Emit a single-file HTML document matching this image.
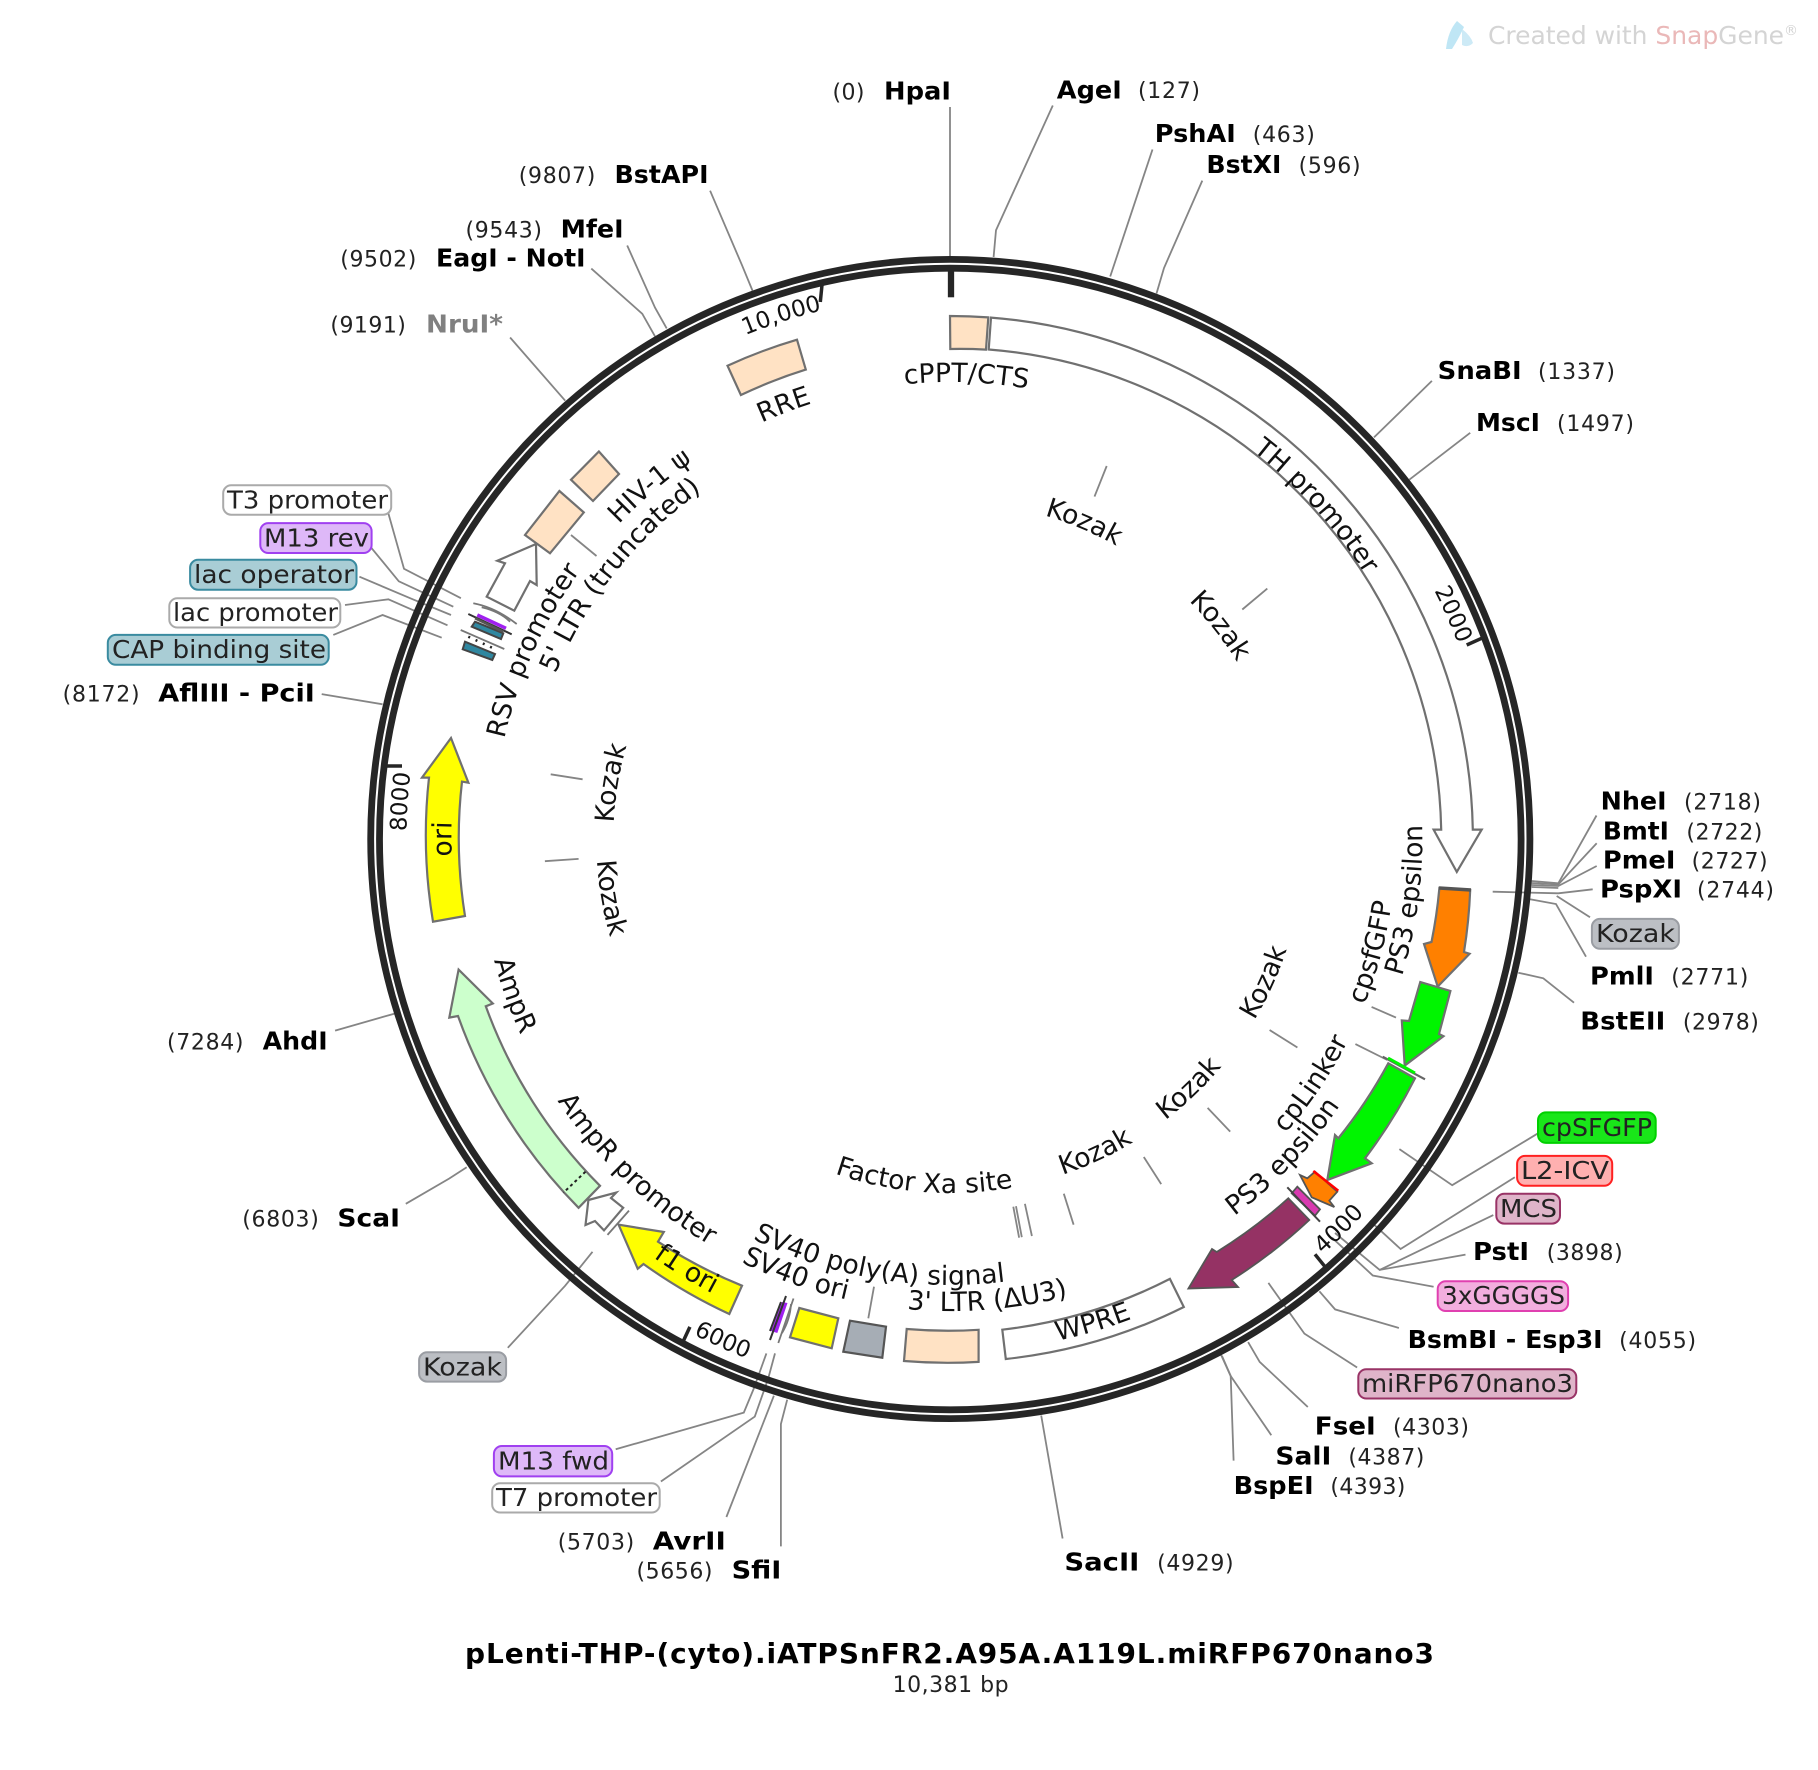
<!DOCTYPE html>
<html><head><meta charset="utf-8"><title>pLenti-THP-(cyto).iATPSnFR2.A95A.A119L.miRFP670nano3</title>
<style>
html,body{margin:0;padding:0;background:#fff}
svg{display:block}
text{font-family:"DejaVu Sans","Liberation Sans",sans-serif;fill:#000}
.b{font-weight:bold;font-size:25px}
.r{font-size:22px;fill:#222}
.f{font-size:26.6px;fill:#111}
.t{font-size:23px;fill:#111}
.x{font-size:25px;fill:#222}
.ld{fill:none;stroke:#858585;stroke-width:1.8}
.fe{stroke:#707070;stroke-width:2.2;stroke-linejoin:miter}
.pc{fill:#ffe2c4}
</style></head><body>
<svg width="1818" height="1770" viewBox="0 0 1818 1770" xmlns="http://www.w3.org/2000/svg">
<defs>
<path id="T337" d="M781.8,547.2A337,337 0 0 1 1118.8,547.2"/>
<path id="T428" d="M736.3,468.4A428,428 0 0 1 1164.3,468.4"/>
<path id="T457" d="M721.8,443.2A457,457 0 0 1 1178.8,443.2"/>
<path id="T492" d="M704.3,412.9A492,492 0 0 1 1196.3,412.9"/>
<path id="T499" d="M700.8,406.9A499,499 0 0 1 1199.8,406.9"/>
<path id="T544" d="M678.3,367.9A544,544 0 0 1 1222.3,367.9"/>
<path id="B354" d="M773.3,1145.6A354,354 0 0 0 1127.3,1145.6"/>
<path id="B446" d="M727.3,1225.2A446,446 0 0 0 1173.3,1225.2"/>
<path id="B472" d="M714.3,1247.8A472,472 0 0 0 1186.3,1247.8"/>
<path id="B513" d="M693.8,1283.3A513,513 0 0 0 1206.8,1283.3"/>
<path id="B558" d="M671.3,1322.2A558,558 0 0 0 1229.3,1322.2"/>
</defs>

<!-- leaders -->
<g class="ld">
<polyline points="950,107 950,256"/>
<polyline points="1052.8,105.5 996,230.2 993.6,257"/>
<polyline points="1152.5,149.5 1110.2,276.5"/>
<polyline points="1202.3,180.6 1164,268 1156.5,293.5"/>
<polyline points="1431.9,380.9 1374,437.4"/>
<polyline points="1470.2,432.8 1409.3,479.7"/>
<polyline points="710.1,190.7 742,265.2 752.5,290.6"/>
<polyline points="627.2,245.5 655,307.6 666.7,328.4"/>
<polyline points="591.3,268.6 642.3,313.8 655,336.3"/>
<polyline points="510.1,337.5 565.2,400.7"/>
<polyline points="388.4,513.5 404,568.8 460.9,598.2"/>
<polyline points="371,547.4 398.8,581.3 453.3,606.7"/>
<polyline points="359.4,576.7 412.8,599.3 451,615"/>
<polyline points="345,605 388.4,599.3 447.5,625.3"/>
<polyline points="333.3,634.9 382.6,615 441.7,637.7"/>
<polyline points="321.7,694.1 382.6,704.3"/>
<polyline points="1596.5,815.5 1558.3,883.3 1531.7,881"/>
<polyline points="1596.7,843.3 1558.3,884.5 1531.7,883"/>
<polyline points="1596.7,866 1558.3,886 1531.7,885"/>
<polyline points="1492.7,891.7 1558.3,893.3 1592.7,889.3"/>
<polyline points="1531.7,887 1558.3,888"/>
<polyline points="1556.7,896 1590,917.3"/>
<polyline points="1530,899.3 1556,904 1586,956.7"/>
<polyline points="1518.3,972.7 1543.3,978.3 1574,1002.7"/>
<polyline points="1538,1133.3 1452.2,1185.2 1399.4,1149.1"/>
<polyline points="1514.8,1177.3 1400.6,1249 1369.9,1220.8"/>
<polyline points="1493.3,1215.1 1379.7,1269.9 1335,1233"/>
<polyline points="1465.5,1254.6 1379.7,1269.9"/>
<polyline points="1433.6,1286.8 1372.8,1275.5 1332,1237.7"/>
<polyline points="1398.9,1328 1335.1,1309.4 1319.4,1291.3"/>
<polyline points="1357.1,1367.5 1304.4,1333.6 1268.4,1282.9"/>
<polyline points="1307.8,1407 1259.7,1361.9 1248.1,1342.1"/>
<polyline points="1271.3,1435.2 1230.7,1376 1220.9,1354.5"/>
<polyline points="1233.6,1460.6 1230.7,1376 1222,1356"/>
<polyline points="1062.6,1538.5 1041.2,1415.5"/>
<polyline points="1269.6,1030 1297.4,1047.5"/>
<polyline points="1207.6,1107.9 1230.2,1131.6"/>
<polyline points="1143.8,1157 1161.2,1184.1"/>
<polyline points="1063.8,1193.7 1073.6,1224.7"/>
<polyline points="1013.3,1206.7 1019.1,1237.7"/>
<polyline points="1016,1206.2 1021.8,1237.2"/>
<polyline points="1024.9,1203.8 1031.9,1236"/>
<polyline points="1371.6,1006.9 1396,1017.6"/>
<polyline points="1355.4,1044.1 1387.3,1060"/>
<polyline points="335.1,1030.6 394.2,1013.7"/>
<polyline points="405.8,1203.8 449.3,1178.5 466.7,1167.2"/>
<polyline points="507.8,1347.8 565.2,1285.7 592.5,1251.8"/>
<polyline points="615.7,1449.3 743.8,1412.6 753.6,1389 766.4,1353.4"/>
<polyline points="660.9,1481.5 754.8,1416.6 768.1,1378.8 775,1353.4"/>
<polyline points="726.4,1517 773.9,1395.7"/>
<polyline points="780.9,1546.4 780.9,1424 787.2,1399.7"/>
<polyline points="874,1286.7 868.3,1318.3"/>
<polyline points="571,535 596.5,556"/>
<polyline points="1106.7,466 1094.5,496.6"/>
<polyline points="1267.3,588.6 1242.3,609.5"/>
<polyline points="550.7,774.3 582.6,779.3"/>
<polyline points="544.9,861.2 578.6,858.9"/>
</g>

<!-- ring -->
<circle cx="950.3" cy="839" r="579.6" fill="none" stroke="#262626" stroke-width="6.8"/>
<circle cx="950.3" cy="839" r="570.8" fill="none" stroke="#262626" stroke-width="6.8"/>
<g stroke="#262626" fill="none">
<line x1="951" y1="271" x2="951" y2="297.3" stroke-width="6.3"/>
<line x1="822" y1="285" x2="820.3" y2="302" stroke-width="3.5"/>
<line x1="1483" y1="637.7" x2="1466.7" y2="645" stroke-width="3.5"/>
<line x1="386" y1="766" x2="402" y2="766" stroke-width="3.5"/>
<line x1="689.9" y1="1326.9" x2="682.3" y2="1343.2" stroke-width="3.5"/>
<line x1="1315" y1="1254.3" x2="1325" y2="1266.7" stroke-width="3.5"/>
</g>

<!-- features -->
<path class="fe pc" d="M950,316A523,523 0 0 1 988.3,317.4L986,349.6A490,490 0 0 0 950.3,349Z"/>
<path class="fe" fill="#fff" stroke-width="1.8" d="M991,317.6A523,523 0 0 1 1472.8,829.6L1481.7,829.6L1456.8,871.9L1433.6,829.6L1441.2,829.6A491,491 0 0 0 988.7,349.5Z"/>
<path class="fe" fill="#ff8000" d="M1439.4,887.8L1470.2,890A522,522 0 0 1 1464,952L1469.6,953.8L1437.7,986.6L1424,944L1431.5,942A491,491 0 0 0 1439.4,887.8Z"/>
<line x1="1439" y1="888" x2="1471" y2="890" stroke="#555" stroke-width="3.5"/>
<path class="fe" fill="#00f500" d="M1420.3,982L1450.4,991L1439,1034L1443.5,1036.2L1404.7,1065.6L1401.8,1020.4L1409,1021Z"/>
<path class="fe" fill="#00f500" d="M1388.3,1063.3L1415,1078.3A522,522 0 0 1 1365,1158.3L1371.7,1163.3L1327.3,1180L1335,1135L1338.3,1138.3A491,491 0 0 0 1388.3,1063.3Z"/>
<line x1="1382.7" y1="1056.7" x2="1425" y2="1079.3" stroke="#666" stroke-width="2.2"/>
<path d="M1388,1058L1415,1073" stroke="#00f500" stroke-width="3"/>
<path d="M1315,1171.7L1337.3,1191.7L1329.3,1200.7L1334.3,1207L1311.7,1197.3L1300,1175L1307.3,1178.3Z" fill="#ff8000" stroke="#555" stroke-width="1.8"/>
<line x1="1313.3" y1="1171" x2="1338.3" y2="1190.7" stroke="#f00" stroke-width="2.5"/>
<path d="M1288.3,1198.3L1309.3,1220A522,522 0 0 1 1231.7,1280L1238,1287L1188.4,1288.5L1212,1249L1216.7,1252A491,491 0 0 0 1288.3,1198.3Z" fill="#953264" stroke="#555" stroke-width="1.8"/>
<path d="M1297.3,1186.7L1320,1209.3L1315,1215.7L1291.7,1193.3Z" fill="#d93ab0" stroke="#555" stroke-width="1.8"/>
<line x1="1287.3" y1="1187.3" x2="1320" y2="1221.7" stroke="#444" stroke-width="2"/>
<path class="fe" fill="#fff" d="M1169.9,1278.9L1183.8,1307A522,522 0 0 1 1005.8,1359L1002.3,1329.7A491,491 0 0 0 1169.9,1278.9Z"/>
<path class="fe pc" d="M906.7,1329A491,491 0 0 0 978.6,1329.8L978.6,1361.9A523,523 0 0 1 904,1361Z"/>
<path d="M850,1320.7L886,1326.7L882.3,1357.7L843.3,1351.7Z" fill="#a6adb5" stroke="#555" stroke-width="2.2"/>
<path class="fe" fill="#ffff00" d="M799.3,1308L838.3,1318.3L831.7,1348.3L790,1337.3Z"/>
<path d="M782,1302L787.5,1303L777.3,1333L771,1331Z" fill="#a020f0"/>
<line x1="786" y1="1296" x2="770" y2="1340" stroke="#333" stroke-width="2"/>
<line x1="781" y1="1302" x2="770" y2="1331" stroke="#333" stroke-width="2"/>
<line x1="793.5" y1="1298.5" x2="778.3" y2="1343" stroke="#777" stroke-width="1.8"/>
<path d="M791,1304Q790,1320 782,1333" stroke="#777" stroke-width="1.8" fill="none"/>
<path class="fe" fill="#ffff00" d="M742,1285.7L729.3,1314A522,522 0 0 1 643.5,1264L637.7,1268.7L618.6,1224.7L663.8,1232L658,1241.7A491,491 0 0 0 742,1285.7Z"/>
<path class="fe" fill="#fff" d="M588.4,1200L616.2,1192.6L611,1198L623.2,1207.8L604,1230.4L595,1221L585.5,1225Z"/>
<line x1="629" y1="1210.6" x2="607.5" y2="1234.9" stroke="#777" stroke-width="1.8"/>
<path class="fe" fill="#ccffcc" d="M600,1185.8L578.6,1207.8A523,523 0 0 1 458,1016L449.3,1017.6L458.6,969.6L492.8,1003.5L485.8,1006.3A491,491 0 0 0 600,1185.8Z"/>
<line x1="585.5" y1="1171.7" x2="563.5" y2="1192.6" stroke="#222" stroke-width="2" stroke-dasharray="3 3"/>
<path class="fe" fill="#ffff00" d="M465,916L433,921.7A523,523 0 0 1 429,777.6L422,777.6L451,738L468.4,782.7L462,781.6A491,491 0 0 0 465,916Z"/>
<path class="fe" fill="#fff" d="M536,544L497.3,560.7L505,563.3L486.7,596.7L514.3,610.7L530,581L536.7,585Z"/>
<path class="fe pc" d="M559.4,491L583.8,512.4L550,553.3L525,535Z"/>
<path class="fe pc" d="M598.9,451.5L619,474L593,501L571,479.7Z"/>
<path class="fe pc" d="M727.5,365.7A523,523 0 0 1 797,339.7L805.8,369.6A491,491 0 0 0 740.9,395Z"/>

<!-- lac cluster -->
<g fill="none">
<path d="M473.3,603.3Q495,607.3 516.7,624" stroke="#777" stroke-width="1.8"/>
<path d="M481.7,607.3Q500,611.7 510,621.7" stroke="#777" stroke-width="1.8"/>
<line x1="477.3" y1="615" x2="506" y2="628.3" stroke="#a020f0" stroke-width="3.5"/>
<line x1="468.3" y1="614" x2="511.7" y2="634.3" stroke="#333" stroke-width="2"/>
<path d="M475,621.7L503.3,633.3L501,639L471.7,626.7Z" fill="#2f87a0" stroke="#444" stroke-width="2"/>
<line x1="475" y1="618.3" x2="503.3" y2="631.7" stroke="#555" stroke-width="2.5"/>
<line x1="460.7" y1="630" x2="504.3" y2="649" stroke="#777" stroke-width="1.8"/>
<line x1="468.3" y1="636.7" x2="493.3" y2="648.3" stroke="#222" stroke-width="2.5" stroke-dasharray="2 6"/>
<path d="M465,641.7L495,654L492.3,660L462.7,649.3Z" fill="#2f87a0" stroke="#444" stroke-width="2"/>
</g>

<!-- enzyme labels -->
<text class="r" x="832.5" y="99.5" textLength="32">(0)</text><text class="b" x="884" y="99.5" textLength="67" lengthAdjust="spacingAndGlyphs">HpaI</text>
<text class="b" x="1056.8" y="98.5" textLength="65" lengthAdjust="spacingAndGlyphs">AgeI</text><text class="r" x="1138" y="98" textLength="62">(127)</text>
<text class="b" x="1154.8" y="142" textLength="81" lengthAdjust="spacingAndGlyphs">PshAI</text><text class="r" x="1252.8" y="142" textLength="62">(463)</text>
<text class="b" x="1206.4" y="173" textLength="75" lengthAdjust="spacingAndGlyphs">BstXI</text><text class="r" x="1298.6" y="173" textLength="62">(596)</text>
<text class="b" x="1437.7" y="379" textLength="84" lengthAdjust="spacingAndGlyphs">SnaBI</text><text class="r" x="1538" y="379" textLength="77">(1337)</text>
<text class="b" x="1476" y="431" textLength="64" lengthAdjust="spacingAndGlyphs">MscI</text><text class="r" x="1557" y="431" textLength="77">(1497)</text>
<text class="b" x="1600.6" y="809.5" textLength="66" lengthAdjust="spacingAndGlyphs">NheI</text><text class="r" x="1684" y="809.5" textLength="77">(2718)</text>
<text class="b" x="1602.9" y="839.5" textLength="66" lengthAdjust="spacingAndGlyphs">BmtI</text><text class="r" x="1686.4" y="839.5" textLength="76">(2722)</text>
<text class="b" x="1602.9" y="868.5" textLength="72.5" lengthAdjust="spacingAndGlyphs">PmeI</text><text class="r" x="1691.6" y="868.5" textLength="76">(2727)</text>
<text class="b" x="1600" y="897.5" textLength="82" lengthAdjust="spacingAndGlyphs">PspXI</text><text class="r" x="1697" y="897.5" textLength="77">(2744)</text>
<text class="b" x="1590" y="984.5" textLength="64" lengthAdjust="spacingAndGlyphs">PmlI</text><text class="r" x="1671.3" y="984.5" textLength="77">(2771)</text>
<text class="b" x="1580.3" y="1029.5" textLength="85" lengthAdjust="spacingAndGlyphs">BstEII</text><text class="r" x="1682.9" y="1029.5" textLength="76">(2978)</text>
<text class="b" x="1473" y="1260" textLength="56" lengthAdjust="spacingAndGlyphs">PstI</text><text class="r" x="1546.7" y="1260" textLength="76">(3898)</text>
<text class="b" x="1407.6" y="1348" textLength="195" lengthAdjust="spacingAndGlyphs">BsmBI - Esp3I</text><text class="r" x="1619.1" y="1348" textLength="77">(4055)</text>
<text class="b" x="1314.8" y="1434.5" textLength="61" lengthAdjust="spacingAndGlyphs">FseI</text><text class="r" x="1393" y="1434.5" textLength="76">(4303)</text>
<text class="b" x="1275.4" y="1464.5" textLength="56" lengthAdjust="spacingAndGlyphs">SalI</text><text class="r" x="1348.4" y="1464.5" textLength="76">(4387)</text>
<text class="b" x="1233.6" y="1494" textLength="80" lengthAdjust="spacingAndGlyphs">BspEI</text><text class="r" x="1330.4" y="1494" textLength="75">(4393)</text>
<text class="b" x="1064.4" y="1570.5" textLength="75" lengthAdjust="spacingAndGlyphs">SacII</text><text class="r" x="1157.1" y="1570.5" textLength="76.5">(4929)</text>
<text class="r" x="518.8" y="183" textLength="76.5">(9807)</text><text class="b" x="614.5" y="183" textLength="94" lengthAdjust="spacingAndGlyphs">BstAPI</text>
<text class="r" x="465.5" y="237.5" textLength="76.5">(9543)</text><text class="b" x="560.6" y="237.5" textLength="63" lengthAdjust="spacingAndGlyphs">MfeI</text>
<text class="r" x="340.3" y="266.5" textLength="76">(9502)</text><text class="b" x="436" y="266.5" textLength="149.5" lengthAdjust="spacingAndGlyphs">EagI - NotI</text>
<text class="r" x="330.4" y="332.5" textLength="75.5">(9191)</text><text class="b" x="426" y="332.5" textLength="77" lengthAdjust="spacingAndGlyphs" style="fill:#808080">NruI*</text>
<text class="r" x="62.6" y="701.5" textLength="77">(8172)</text><text class="b" x="158.3" y="701.5" textLength="156.5" lengthAdjust="spacingAndGlyphs">AflIII - PciI</text>
<text class="r" x="167" y="1049.5" textLength="76.5">(7284)</text><text class="b" x="262.6" y="1049.5" textLength="65" lengthAdjust="spacingAndGlyphs">AhdI</text>
<text class="r" x="242.3" y="1226.5" textLength="76.5">(6803)</text><text class="b" x="337.4" y="1226.5" textLength="62.6" lengthAdjust="spacingAndGlyphs">ScaI</text>
<text class="r" x="557.7" y="1549.5" textLength="76.5">(5703)</text><text class="b" x="652.8" y="1549.5" textLength="73" lengthAdjust="spacingAndGlyphs">AvrII</text>
<text class="r" x="636.5" y="1578.5" textLength="76">(5656)</text><text class="b" x="731.6" y="1578.5" textLength="49.8" lengthAdjust="spacingAndGlyphs">SfiI</text>

<!-- boxed labels -->
<g stroke-width="2">
<rect x="223.2" y="485.3" width="168" height="29.4" rx="8" fill="#fff" stroke="#aaa"/>
<rect x="260.3" y="523.1" width="111.3" height="29.9" rx="8" fill="#deb8f8" stroke="#a040f0"/>
<rect x="190.1" y="559.8" width="166.4" height="29.9" rx="8" fill="#a9cdd5" stroke="#3a8ba0"/>
<rect x="169.3" y="598.2" width="171" height="29.3" rx="8" fill="#fff" stroke="#aaa"/>
<rect x="107.8" y="634.9" width="220.9" height="29.9" rx="8" fill="#a9cdd5" stroke="#3a8ba0"/>
<rect x="419.1" y="1352.3" width="87" height="29.3" rx="8" fill="#bcbfc4" stroke="#9a9da3"/>
<rect x="493.9" y="1446" width="118.3" height="30.4" rx="8" fill="#deb8f8" stroke="#a040f0"/>
<rect x="492.2" y="1483.2" width="167.5" height="29.3" rx="8" fill="#fff" stroke="#aaa"/>
<rect x="1591.9" y="918.9" width="87" height="29.9" rx="8" fill="#bcbfc4" stroke="#9a9da3"/>
<rect x="1538" y="1112.4" width="117.7" height="30.5" rx="8" fill="#19e619" stroke="#00d000"/>
<rect x="1517.1" y="1155.9" width="95.1" height="29.9" rx="8" fill="#ffb0b0" stroke="#ff2020"/>
<rect x="1496.3" y="1193.7" width="63.7" height="29.9" rx="8" fill="#dfb4c9" stroke="#993366"/>
<rect x="1437.7" y="1281.2" width="130.4" height="29.8" rx="8" fill="#f2aede" stroke="#e040b0"/>
<rect x="1358.3" y="1369.2" width="218" height="29.3" rx="8" fill="#dfb4c9" stroke="#993366"/>
</g>
<text class="x" x="227" y="508.5" textLength="161" lengthAdjust="spacingAndGlyphs">T3 promoter</text>
<text class="x" x="264" y="546.5" textLength="105" lengthAdjust="spacingAndGlyphs">M13 rev</text>
<text class="x" x="194" y="583" textLength="160" lengthAdjust="spacingAndGlyphs">lac operator</text>
<text class="x" x="173" y="621" textLength="165" lengthAdjust="spacingAndGlyphs">lac promoter</text>
<text class="x" x="112" y="658" textLength="214" lengthAdjust="spacingAndGlyphs">CAP binding site</text>
<text class="x" x="423" y="1375.5" textLength="79" lengthAdjust="spacingAndGlyphs">Kozak</text>
<text class="x" x="498" y="1469.5" textLength="111" lengthAdjust="spacingAndGlyphs">M13 fwd</text>
<text class="x" x="496" y="1506" textLength="161" lengthAdjust="spacingAndGlyphs">T7 promoter</text>
<text class="x" x="1596" y="942" textLength="79" lengthAdjust="spacingAndGlyphs">Kozak</text>
<text class="x" x="1542" y="1136" textLength="110" lengthAdjust="spacingAndGlyphs">cpSFGFP</text>
<text class="x" x="1521" y="1179" textLength="88" lengthAdjust="spacingAndGlyphs">L2-ICV</text>
<text class="x" x="1500" y="1217" textLength="57" lengthAdjust="spacingAndGlyphs">MCS</text>
<text class="x" x="1442" y="1304" textLength="123" lengthAdjust="spacingAndGlyphs">3xGGGGS</text>
<text class="x" x="1362" y="1392" textLength="211" lengthAdjust="spacingAndGlyphs">miRFP670nano3</text>

<!-- feature labels on arcs -->
<g text-anchor="middle">
<text class="f" transform="rotate(2 950.3 839)"><textPath href="#T457" startOffset="50%">cPPT/CTS</textPath></text>
<text class="f" transform="rotate(47.7 950.3 839)"><textPath href="#T492" startOffset="50%">TH promoter</textPath></text>
<text class="f" transform="rotate(22.9 950.3 839)"><textPath href="#T337" startOffset="50%">Kozak</textPath></text>
<text class="f" transform="rotate(51.7 950.3 839)"><textPath href="#T337" startOffset="50%">Kozak</textPath></text>
<text class="f" transform="rotate(-80.6 950.3 839)"><textPath href="#T337" startOffset="50%">Kozak</textPath></text>
<text class="f" transform="rotate(-90 950.3 839)"><textPath href="#T499" startOffset="50%">ori</textPath></text>
<text class="f" transform="rotate(-65.7 950.3 839)"><textPath href="#T457" startOffset="50%">RSV promoter</textPath></text>
<text class="f" transform="rotate(-51.4 950.3 839)"><textPath href="#T428" startOffset="50%">5' LTR (truncated)</textPath></text>
<text class="f" transform="rotate(-40.4 950.3 839)"><textPath href="#T457" startOffset="50%">HIV-1 ψ</textPath></text>
<text class="f" transform="rotate(-21 950.3 839)"><textPath href="#T457" startOffset="50%">RRE</textPath></text>
<text class="f" transform="rotate(-82.4 950.3 839)"><textPath href="#B472" startOffset="50%">PS3 epsilon</textPath></text>
<text class="f" transform="rotate(-75 950.3 839)"><textPath href="#B446" startOffset="50%">cpsfGFP</textPath></text>
<text class="f" transform="rotate(-65.5 950.3 839)"><textPath href="#B354" startOffset="50%">Kozak</textPath></text>
<text class="f" transform="rotate(-55.9 950.3 839)"><textPath href="#B446" startOffset="50%">cpLinker</textPath></text>
<text class="f" transform="rotate(-46.3 950.3 839)"><textPath href="#B472" startOffset="50%">PS3 epsilon</textPath></text>
<text class="f" transform="rotate(-43.7 950.3 839)"><textPath href="#B354" startOffset="50%">Kozak</textPath></text>
<text class="f" transform="rotate(-24.8 950.3 839)"><textPath href="#B354" startOffset="50%">Kozak</textPath></text>
<text class="f" transform="rotate(4.4 950.3 839)"><textPath href="#B354" startOffset="50%">Factor Xa site</textPath></text>
<text class="f" transform="rotate(-16.4 950.3 839)"><textPath href="#B513" startOffset="50%">WPRE</textPath></text>
<text class="f" transform="rotate(-4.6 950.3 839)"><textPath href="#B472" startOffset="50%">3' LTR (ΔU3)</textPath></text>
<text class="f" transform="rotate(9.6 950.3 839)"><textPath href="#B446" startOffset="50%">SV40 poly(A) signal</textPath></text>
<text class="f" transform="rotate(19.5 950.3 839)"><textPath href="#B472" startOffset="50%">SV40 ori</textPath></text>
<text class="f" transform="rotate(31.5 950.3 839)"><textPath href="#B513" startOffset="50%">f1 ori</textPath></text>
<text class="f" transform="rotate(43.5 950.3 839)"><textPath href="#B472" startOffset="50%">AmpR promoter</textPath></text>
<text class="f" transform="rotate(70.3 950.3 839)"><textPath href="#B472" startOffset="50%">AmpR</textPath></text>
<text class="f" transform="rotate(80.2 950.3 839)"><textPath href="#B354" startOffset="50%">Kozak</textPath></text>
<text class="t" transform="rotate(-17.9 950.3 839)"><textPath href="#T544" startOffset="50%">10,000</textPath></text>
<text class="t" transform="rotate(65.9 950.3 839)"><textPath href="#T544" startOffset="50%">2000</textPath></text>
<text class="t" transform="rotate(-86.1 950.3 839)"><textPath href="#T544" startOffset="50%">8000</textPath></text>
<text class="t" transform="rotate(24.4 950.3 839)"><textPath href="#B558" startOffset="50%">6000</textPath></text>
<text class="t" transform="rotate(-44.9 950.3 839)"><textPath href="#B558" startOffset="50%">4000</textPath></text>
</g>

<!-- title -->
<text x="465" y="1663" textLength="969" style="font-weight:bold;font-size:28px">pLenti-THP-(cyto).iATPSnFR2.A95A.A119L.miRFP670nano3</text>
<text x="892.6" y="1692" textLength="116" style="font-size:22px;fill:#222">10,381 bp</text>

<!-- watermark -->
<path d="M1446,49Q1448,31 1457,21L1464,27Q1459,38 1452,49Z" fill="#bfe6f5"/>
<path d="M1462,29Q1471,36 1473,43Q1468,48 1462,45Z" fill="#cdeaf6"/>
<text x="1488" y="44" textLength="310" style="font-size:25px;fill:#d4d4d4">Created with <tspan style="fill:#eab8b8">Snap</tspan>Gene<tspan style="font-size:14px" dy="-9">®</tspan></text>
</svg>
</body></html>
